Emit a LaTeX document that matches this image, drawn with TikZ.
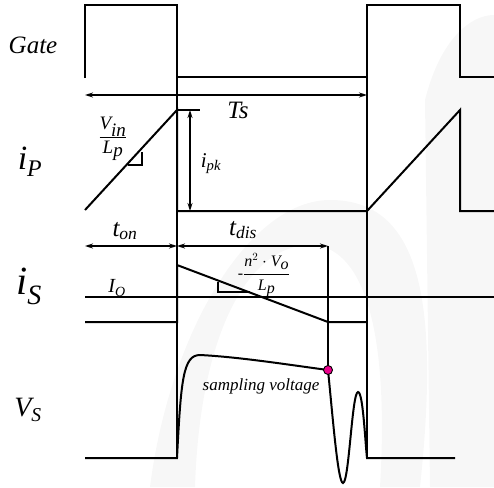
\documentclass[tikz,border=0pt]{standalone}
\usepackage{fontspec}
\setmainfont{Liberation Serif}
\usetikzlibrary{arrows.meta}
\newcommand{\ti}[1]{\textit{#1}}
\begin{document}
\begin{tikzpicture}[x=1pt,y=-1pt,
  wave/.style={line width=2pt,line join=miter},
  guide/.style={line width=1.4pt},
  dim/.style={line width=1.3pt,{Stealth[length=8pt,width=5pt]}-{Stealth[length=8pt,width=5pt]}},
  lbl/.style={inner sep=0pt}]
\useasboundingbox (0,0) rectangle (494,487);
% faint watermark
\fill[black!3] (150,487) .. controls (170,330) and (250,200) .. (330,200) .. controls (420,200) and (440,300) .. (420,487) -- (380,487) .. controls (390,320) and (360,245) .. (310,245) .. controls (250,245) and (200,330) .. (195,487) -- cycle;
\fill[black!3] (425,100) .. controls (440,40) and (470,15) .. (494,15) -- (494,487) -- (430,487) -- cycle;
% guide lines
\draw[guide] (177,5) -- (177,458);
\draw[guide] (367,5) -- (367,458);
\draw[guide] (85,297) -- (494,297);
% Gate
\draw[wave] (85,78) -- (85,5) -- (177,5) -- (177,77) -- (367,77) -- (367,5) -- (460,5) -- (460,77) -- (494,77);
% Ts
\coordinate (tsL) at (85,95); \coordinate (tsR) at (367,95);
\draw[dim] (tsL) -- (tsR);
\node[lbl,font=\fontsize{25}{25}\selectfont\itshape] (ts) at (238,110) {Ts};
% iP
\draw[wave] (85,210) -- (177,110) -- (177,211) -- (367,211) -- (460,110) -- (460,211) -- (494,211);
\draw[guide] (177,110) -- (200,110);
\coordinate (pkT) at (190,110); \coordinate (pkB) at (190,211);
\draw[dim] (pkT) -- (pkB);
\node[lbl,font=\fontsize{21}{21}\selectfont\itshape] (ipk) at (211,164) {i\textsubscript{pk}};
\node[lbl,font=\fontsize{19}{19}\selectfont] (vin) at (113,139) {$\displaystyle\frac{\ti{V}_{\ti{in}}}{\ti{L}_{\ti{p}}}$};
\draw[guide] (128,165) -- (142,165) -- (142,152);
% ton / tdis
\coordinate (a1) at (85,246); \coordinate (a2) at (177,246); \coordinate (a3) at (328,246);
\draw[dim] (a1) -- (a2);
\draw[dim] (a2) -- (a3);
\node[lbl,font=\fontsize{25}{25}\selectfont\itshape] (ton) at (125,231) {t\textsubscript{on}};
\node[lbl,font=\fontsize{25}{25}\selectfont\itshape] (tdis) at (243,230) {t\textsubscript{dis}};
% iS
\draw[wave] (85,322) -- (177,322) -- (177,265) -- (328,322) -- (367,322);
\draw[guide] (218,282) -- (218,292) -- (250,292);
\node[lbl,font=\fontsize{20}{20}\selectfont\itshape] (io) at (117,288) {I\textsubscript{O}};
\node[lbl,font=\fontsize{16}{16}\selectfont] (slope) at (264,275) {-$\displaystyle\frac{\ti{n}^{2}\cdot\ti{V}_{\ti{o}}}{\ti{L}_{\ti{p}}}$};
% sample line
\coordinate (samp) at (328,370);
\draw[guide] (a3) -- (samp);
% Vs
\draw[wave] (85,458) -- (177,458) .. controls (181,380) and (183,355) .. (200,355) .. controls (240,357) and (290,365) .. (samp) .. controls (333,420) and (338,483) .. (343,483) .. controls (349,483) and (352,392) .. (358,392) .. controls (363,392) and (365,440) .. (367,458) -- (455,458);
\node[circle,draw=black,fill=magenta,inner sep=0pt,minimum size=9pt,line width=0.9pt] (dot) at (samp) {};
\node[lbl,font=\fontsize{17}{17}\selectfont\itshape] (sv) at (261,386) {sampling voltage};
% left labels
\node[lbl,font=\fontsize{25}{25}\selectfont\itshape] (gate) at (33,45) {Gate};
\node[lbl,font=\fontsize{34}{34}\selectfont\itshape] (ip) at (30,162) {i\textsubscript{P}};
\node[lbl,font=\fontsize{40}{40}\selectfont\itshape] (is) at (29,286) {i\textsubscript{S}};
\node[lbl,font=\fontsize{28}{28}\selectfont\itshape] (vs) at (28,410) {V\textsubscript{S}};
\end{tikzpicture}
\end{document}
